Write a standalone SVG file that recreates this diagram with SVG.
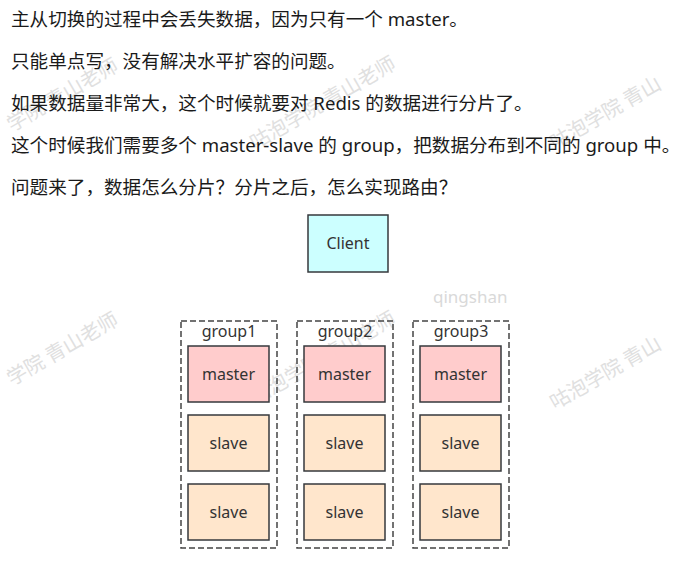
<svg xmlns="http://www.w3.org/2000/svg" width="680" height="564" viewBox="0 0 680 564">
<style>
.p{font-family:"Noto Sans","Noto Sans CJK SC",sans-serif;font-size:18.6px;fill:#1a1a1a}
.wm{font-family:"Noto Sans CJK SC",sans-serif;font-size:20px;fill:#e0e0e0}
.lbl{font-family:"Noto Sans","Noto Sans CJK SC",sans-serif;font-size:16px;fill:#333;text-anchor:middle}
.grp{fill:none;stroke:#444;stroke-width:1.5;stroke-dasharray:6 3}
.box{stroke:#36393d;stroke-width:1.5}
.client{fill:#ccffff}
.master{fill:#ffcccc}
.slave{fill:#ffe6cc}
</style>
<rect width="680" height="564" fill="#fff"/>
<g id="watermarks">
<text class="wm" transform="translate(12,132) rotate(-30)">学院 青山老师</text>
<text class="wm" transform="translate(255,150) rotate(-30)">咕泡学院 青山老师</text>
<text class="wm" transform="translate(555,150) rotate(-30)">咕泡学院 青山</text>
<text class="wm" transform="translate(12,386) rotate(-30)">学院 青山老师</text>
<text class="wm" transform="translate(255,405) rotate(-30)">咕泡学院 青山老师</text>
<text class="wm" transform="translate(555,410) rotate(-30)">咕泡学院 青山</text>
<text x="433" y="303" style="font-family:'Noto Sans',sans-serif;font-size:17px;fill:#d9d9d9">qingshan</text>
</g>
<g id="text">
<text class="p" x="11" y="26">主从切换的过程中会丢失数据，因为只有一个 master。</text>
<text class="p" x="11" y="68">只能单点写，没有解决水平扩容的问题。</text>
<text class="p" x="11" y="110">如果数据量非常大，这个时候就要对 Redis 的数据进行分片了。</text>
<text class="p" x="11" y="152">这个时候我们需要多个 master-slave 的 group，把数据分布到不同的 group 中。</text>
<text class="p" x="11" y="194">问题来了，数据怎么分片？分片之后，怎么实现路由？</text>
</g>
<g id="client">
<rect class="box client" x="308" y="215" width="80" height="57"/>
<text class="lbl" x="348" y="249">Client</text>
</g>
<g id="group1">
<rect class="grp" x="181" y="321" width="96" height="227"/>
<text class="lbl" x="229" y="337">group1</text>
<g id="g1-master"><rect class="box master" x="188" y="346" width="81" height="56"/><text class="lbl" x="228.5" y="380">master</text></g>
<g id="g1-slave1"><rect class="box slave" x="188" y="415" width="81" height="56"/><text class="lbl" x="228.5" y="449">slave</text></g>
<g id="g1-slave2"><rect class="box slave" x="188" y="484" width="81" height="56"/><text class="lbl" x="228.5" y="518">slave</text></g>
</g>
<g id="group2">
<rect class="grp" x="297" y="321" width="96" height="227"/>
<text class="lbl" x="345" y="337">group2</text>
<g id="g2-master"><rect class="box master" x="304" y="346" width="81" height="56"/><text class="lbl" x="344.5" y="380">master</text></g>
<g id="g2-slave1"><rect class="box slave" x="304" y="415" width="81" height="56"/><text class="lbl" x="344.5" y="449">slave</text></g>
<g id="g2-slave2"><rect class="box slave" x="304" y="484" width="81" height="56"/><text class="lbl" x="344.5" y="518">slave</text></g>
</g>
<g id="group3">
<rect class="grp" x="413" y="321" width="96" height="227"/>
<text class="lbl" x="461" y="337">group3</text>
<g id="g3-master"><rect class="box master" x="420" y="346" width="81" height="56"/><text class="lbl" x="460.5" y="380">master</text></g>
<g id="g3-slave1"><rect class="box slave" x="420" y="415" width="81" height="56"/><text class="lbl" x="460.5" y="449">slave</text></g>
<g id="g3-slave2"><rect class="box slave" x="420" y="484" width="81" height="56"/><text class="lbl" x="460.5" y="518">slave</text></g>
</g>
<g id="connectors"></g>
</svg>
